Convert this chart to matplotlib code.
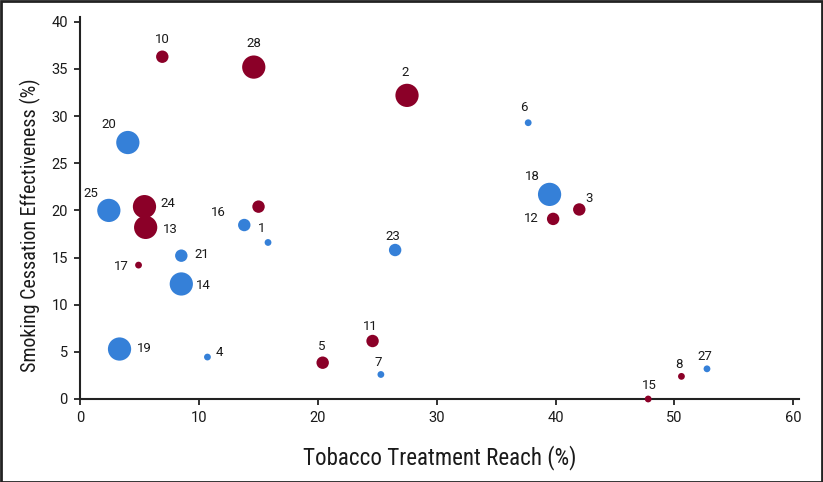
import matplotlib.pyplot as plt
from matplotlib.patches import Rectangle

# === DATA ===
reach = [6.9, 14.6, 27.5, 37.7, 4.0, 39.5, 42.0, 39.8, 2.4, 5.4, 5.5, 15.0, 13.8,
         15.8, 26.5, 8.5, 4.9, 8.5, 3.3, 10.7, 20.4, 24.6, 25.3, 47.8, 50.6, 52.75]
effectiveness = [36.3, 35.2, 32.2, 29.3, 27.2, 21.7, 20.1, 19.1, 20.0, 20.4, 18.2, 20.4, 18.45,
                 16.6, 15.8, 15.2, 14.2, 12.2, 5.3, 4.45, 3.85, 6.15, 2.6, 0.0, 2.4, 3.2]
site_labels = ["10", "28", "2", "6", "20", "18", "3", "12", "25", "24", "13", "", "16",
               "1", "23", "21", "17", "14", "19", "4", "5", "11", "7", "15", "8", "27"]
group = ["red", "red", "red", "blue", "blue", "blue", "red", "red", "blue", "red", "red", "red", "blue",
         "blue", "blue", "blue", "red", "blue", "blue", "blue", "red", "red", "blue", "red", "red", "blue"]
size_tier = [2, 3, 3, 1, 3, 3, 2, 2, 3, 3, 3, 2, 2,
             1, 2, 2, 1, 3, 3, 1, 2, 2, 1, 1, 1, 1]

# === STYLE ===
COLORS = {"red": "#8B0028", "blue": "#3580D8"}
TIER_SIZE = {1: 24, 2: 80, 3: 280}
# label offsets in pixels (dx, dy) relative to each point
LABEL_OFFSETS = [(0, 17), (0, 24), (-2, 23), (-4, 15), (-19, 18), (-17, 18), (10, 11), (-22, 0),
                 (-18, 17), (23, 3), (25, -2), (0, 0), (-26, 13),
                 (-6, 14), (-2, 14), (21, 1), (-17, -1), (22, -2), (25, 1), (12, 5), (-1, 16),
                 (-2, 15), (-3, 12), (1, 13), (-2, 12), (-2, 12)]
TEXT_COLOR = "#1a1a1a"
TITLE_FONT = ["Roboto Condensed", "Roboto", "DejaVu Sans"]

plt.rcParams["font.family"] = ["Roboto", "DejaVu Sans"]

fig = plt.figure(figsize=(8.23, 4.82), dpi=100)
ax = fig.add_axes([0.0976, 0.1722, 0.8733, 0.7923])

ax.scatter(reach, effectiveness,
           s=[TIER_SIZE[t] for t in size_tier],
           c=[COLORS[g] for g in group],
           linewidths=0, zorder=3, clip_on=False)

for x, y, lab, (dx, dy) in zip(reach, effectiveness, site_labels, LABEL_OFFSETS):
    if lab:
        ax.annotate(lab, (x, y), xytext=(dx, dy), textcoords="offset pixels",
                    ha="center", va="center", fontsize=9.5, color=TEXT_COLOR)

ax.set_xlim(0, 60.5)
ax.set_ylim(0, 40.5)
ax.set_xticks(range(0, 61, 10))
ax.set_yticks(range(0, 41, 5))

for side in ("top", "right"):
    ax.spines[side].set_visible(False)
for side in ("left", "bottom"):
    ax.spines[side].set_linewidth(1.5)
    ax.spines[side].set_color("#222222")
ax.tick_params(direction="out", length=4, width=1.3, color="#222222",
               labelsize=10.5, labelcolor=TEXT_COLOR, pad=5)

ax.set_xlabel("Tobacco Treatment Reach (%)", fontsize=16.6, color=TEXT_COLOR, family=TITLE_FONT)
ax.set_ylabel("Smoking Cessation Effectiveness (%)", fontsize=14.4, color=TEXT_COLOR, family=TITLE_FONT)
ax.xaxis.set_label_coords(0.5, -0.12)
ax.yaxis.set_label_coords(-0.055, 0.455)

fig.patches.append(Rectangle((0.001, 0.001), 0.998, 0.997, transform=fig.transFigure,
                             fill=False, edgecolor="#222222", linewidth=2))

fig.savefig("out.png", dpi=100)
